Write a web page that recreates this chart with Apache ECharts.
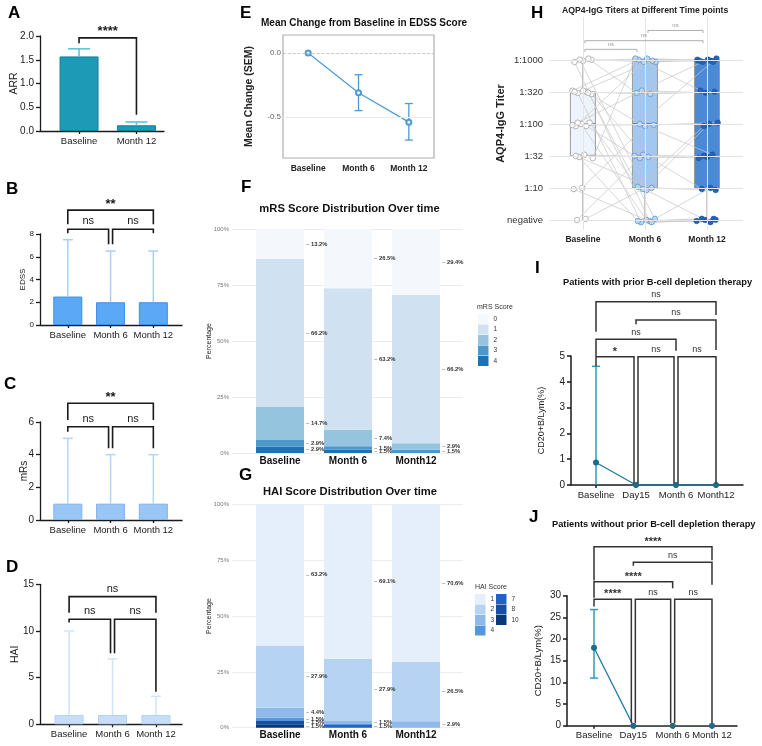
<!DOCTYPE html>
<html><head><meta charset="utf-8">
<script src="https://cdn.jsdelivr.net/npm/echarts@6/dist/echarts.min.js"></script>
<style>html,body{margin:0;padding:0;background:#fff}#c{width:762px;height:746px}</style>
</head><body><div id="c"></div>
<script>
// ================= DATA =================
const arrCategories = ['Baseline', 'Month 12'];
const arrMean = [1.57, 0.12];
const arrUpper = [1.73, 0.19];
const arrSig = ['****'];

const visitCategories = ['Baseline', 'Month 6', 'Month 12'];
const edssValue = [2.5, 2.0, 2.0];
const edssUpper = [7.5, 6.5, 6.5];
const edssSig = ['**', 'ns', 'ns'];
const mrsValue = [1, 1, 1];
const mrsUpper = [5, 4, 4];
const mrsSig = ['**', 'ns', 'ns'];
const haiValue = [1, 1, 1];
const haiUpper = [10, 7, 3];
const haiSig = ['ns', 'ns', 'ns'];

const edssChange = [0, -0.31, -0.54];
const edssChangeLow = [0, -0.45, -0.68];
const edssChangeHigh = [0, -0.17, -0.395];

const distCategories = ['Baseline', 'Month 6', 'Month12'];
const mrsPct0 = [13.2, 26.5, 29.4];
const mrsPct1 = [66.2, 63.2, 66.2];
const mrsPct2 = [14.7, 7.4, 2.9];
const mrsPct3 = [2.9, 1.5, 1.5];
const mrsPct4 = [2.9, 1.5, 0];
const haiPct1 = [63.2, 69.1, 70.6];
const haiPct2 = [27.9, 27.9, 26.5];
const haiPct3 = [4.4, 1.5, 2.9];
const haiPct4 = [1.5, 0, 0];
const haiPct7 = [0, 1.5, 0];
const haiPct8 = [1.5, 0, 0];
const haiPct10 = [1.5, 0, 0];

const titerLevels = ['negative', '1:10', '1:32', '1:100', '1:320', '1:1000'];
// level index per patient (0 = negative ... 5 = 1:1000)
const titerBaseline = [5,5,5,5,5, 4,4,4,4,4,4,4, 3,3,3,3,3,3, 2,2,2,2, 1,1, 0,0];
const titerMonth6   = [5,5,0,4,1, 5,3,0,2,5,4,0, 5,1,0,3,2,4, 0,5,2,1, 3,0, 1,2];
const titerMonth12  = [5,5,0,5,0, 4,5,0,2,5,4,1, 5,3,0,3,2,4, 0,5,1,1, 2,0, 3,2];
// [min, Q1, median, Q3, max] in level index
const titerBoxBaseline = [0, 2, 3, 4, 5];
const titerBoxMonth6 = [0, 1, 3, 5, 5];
const titerBoxMonth12 = [0, 1, 3, 5, 5];
const titerSig = ['ns', 'ns', 'ns'];

const cd20PriorCategories = ['Baseline', 'Day15', 'Month 6', 'Month12'];
const cd20Prior = [0.87, 0, 0, 0];
const cd20PriorLow = [0, 0, 0, 0];
const cd20PriorHigh = [4.6, 0, 0, 0];
const cd20PriorSig = ['ns', 'ns', 'ns', '*', 'ns', 'ns'];

const cd20NaiveCategories = ['Baseline', 'Day15', 'Month 6', 'Month 12'];
const cd20Naive = [18.0, 0, 0, 0];
const cd20NaiveLow = [11.0, 0, 0, 0];
const cd20NaiveHigh = [26.8, 0, 0, 0];
const cd20NaiveSig = ['****', 'ns', '****', '****', 'ns', 'ns'];

// ================= LAYOUT (annotation geometry) =================
// bracket rows: [fromIdx, toIdx, yLine, yEndFrom, yEndTo, dxFromPx, dxToPx]
const bracketsA = [[0, 1, 1.96, 1.85, 0.34, 0, 0]];
const bracketsB = [[0, 2, 10.1, 8.86, 8.86, 0, 0], [0, 1, 8.42, 8.07, 7.1, 0, -2], [1, 2, 8.42, 7.1, 8.07, 2, 0]];
const bracketsC = [[0, 2, 7.15, 6.12, 6.12, 0, 0], [0, 1, 5.71, 5.41, 4.39, 0, -2], [1, 2, 5.71, 4.39, 4.39, 2, 0]];
const bracketsD = [[0, 2, 13.68, 11.96, 11.96, 0, 0], [0, 1, 11.25, 10.9, 7.6, 0, -2], [1, 2, 11.25, 7.6, 3.5, 2, 0]];
const bracketsH = [[0, 1, 5.33, 5.25, 5.25, 2, -8], [0, 2, 5.6, 5.52, 5.52, 2, -4], [1, 2, 5.92, 5.84, 5.84, 3, -4]];
const bracketsI = [[0, 3, 7.1, 5.94, 6.59, 0, 0], [1, 3, 6.4, 6.23, 5.23, 0, 0], [0, 2, 5.65, 5.0, 5.2, 0, 0],
                   [0, 1, 4.97, 4.6, 0.06, 0, -2], [1, 2, 4.97, 0.06, 0.06, 2, -2], [2, 3, 4.97, 0.06, 0.06, 2, 0]];
const bracketsJ = [[0, 3, 41.3, 33.5, 38.2, 0, 0], [1, 3, 37.7, 36.9, 32.5, 0, 0], [0, 2, 33.2, 29.5, 31.7, 0, 0],
                   [0, 1, 29.2, 27.5, 0.6, 0, -2], [1, 2, 29.2, 0.6, 0.6, 2, -2], [2, 3, 29.2, 0.6, 0.6, 2, 0]];

const FONT = '"Liberation Sans", Arial, Helvetica, sans-serif';
const INK = '#1a1a1a';

// ================= HELPERS =================
function idx(arr) { return arr.map((_, i) => i); }

function gpXAxis(gi, cats, min, max, fs, opt) {
  opt = opt || {};
  return {
    gridIndex: gi, type: 'value', min: min, max: max,
    axisLine: { show: opt.line !== false, onZero: false, lineStyle: { color: INK, width: opt.lw || 1.3 } },
    axisTick: { show: opt.tick !== false, customValues: idx(cats), length: 3, lineStyle: { color: INK, width: opt.lw || 1.3 } },
    axisLabel: { show: true, customValues: idx(cats), formatter: v => cats[Math.round(v)], fontSize: fs,
      fontFamily: FONT, color: opt.color || INK, fontWeight: opt.bold ? 'bold' : 'normal', margin: opt.margin || 5 },
    splitLine: { show: false }
  };
}

function gpYAxis(gi, min, max, interval, opt) {
  return {
    gridIndex: gi, type: 'value', min: min, max: max, interval: interval,
    axisLine: { show: true, onZero: false, lineStyle: { color: INK, width: opt.lw || 1.3 } },
    axisTick: { show: true, length: 4, lineStyle: { color: INK, width: opt.lw || 1.3 } },
    axisLabel: { fontSize: opt.fs, fontFamily: FONT, color: INK, margin: opt.margin || 6, formatter: opt.fmt },
    splitLine: { show: false },
    name: opt.name, nameLocation: 'middle', nameGap: opt.nameGap, nameRotate: 90, nameMoveOverlap: false,
    nameTextStyle: { fontSize: opt.nameFs, fontFamily: FONT, color: INK, fontWeight: opt.nameBold ? 'bold' : 'normal' }
  };
}

function errorBars(gi, rows, color, cap, lw, z) {
  return {
    type: 'custom', xAxisIndex: gi, yAxisIndex: gi, silent: true, z: z || 3, clip: false,
    data: rows,
    renderItem: function (params, api) {
      const x = api.value(0), lo = api.value(1), hi = api.value(2);
      if (hi === lo) return { type: 'group', children: [] };
      const pl = api.coord([x, lo]), ph = api.coord([x, hi]);
      const h = cap / 2;
      const st = { stroke: color, lineWidth: lw, fill: null };
      const ch = [
        { type: 'line', shape: { x1: pl[0], y1: pl[1], x2: ph[0], y2: ph[1] }, style: st },
        { type: 'line', shape: { x1: ph[0] - h, y1: ph[1], x2: ph[0] + h, y2: ph[1] }, style: st }
      ];
      if (rows[params.dataIndex][3]) {
        ch.push({ type: 'line', shape: { x1: pl[0] - h, y1: pl[1], x2: pl[0] + h, y2: pl[1] }, style: st });
      }
      return { type: 'group', children: ch };
    }
  };
}

function brackets(gi, layout, labels, o) {
  return {
    type: 'custom', xAxisIndex: gi, yAxisIndex: gi, silent: true, z: 6, clip: false,
    data: layout.map(r => [r[0], r[2]]),
    renderItem: function (params, api) {
      const r = layout[params.dataIndex];
      const pA = api.coord([r[0], r[2]]), pB = api.coord([r[1], r[2]]);
      const eA = api.coord([r[0], r[3]]), eB = api.coord([r[1], r[4]]);
      const xa = pA[0] + r[5], xb = pB[0] + r[6], y = pA[1];
      const lab = labels[params.dataIndex];
      const star = lab.indexOf('*') >= 0;
      const ty = y - (star ? o.starGap : o.nsGap);
      return {
        type: 'group', children: [
          { type: 'polyline', shape: { points: [[xa, eA[1]], [xa, y], [xb, y], [xb, eB[1]]] },
            style: { stroke: o.color, lineWidth: o.lw, fill: null } },
          { type: 'text', x: (xa + xb) / 2, y: ty,
            style: { text: lab, fill: o.color, font: (star ? 'bold ' + o.starFs : 'normal ' + o.nsFs) + 'px ' + FONT,
              align: 'center', verticalAlign: 'middle', textAlign: 'center', textVerticalAlign: 'middle' } }
        ]
      };
    }
  };
}

function gtext(x, y, text, size, weight, color, align) {
  return { type: 'text', x: x, y: y, silent: true, z: 10,
    style: { text: text, font: weight + ' ' + size + 'px ' + FONT, fill: color || '#000',
      align: align || 'left', verticalAlign: 'middle', textAlign: align || 'left', textVerticalAlign: 'middle' } };
}

// jitter for titer points (deterministic)
function jx(k) { return (((k * 0.618034) % 1) - 0.5) * 0.36; }
function jy(k) { return (((k * 0.7548777) % 1) - 0.5) * 0.14; }
function jitter(levels, t) {
  const cnt = {};
  return levels.map(lv => {
    const k = cnt[lv] = (cnt[lv] || 0) + 1;
    return [t + jx(k + lv * 3 + t * 5), lv + jy(k + lv + t * 2)];
  });
}

// ================= OPTION =================
const grids = [
  { left: 40, top: 36, width: 124, height: 95 },          // 0 A
  { left: 40, top: 234, width: 142, height: 91 },         // 1 B
  { left: 40, top: 422, width: 142, height: 98 },         // 2 C
  { left: 40, top: 584.3, width: 142, height: 140 },      // 3 D
  { left: 283, top: 35, width: 151, height: 123, show: true, borderColor: '#adadad', borderWidth: 1.2, backgroundColor: '#fff' }, // 4 E
  { left: 232, top: 229, width: 231, height: 224 },       // 5 F bg
  { left: 246, top: 229, width: 204, height: 224 },       // 6 F bars
  { left: 232, top: 504.3, width: 231, height: 223.4 },   // 7 G bg
  { left: 246, top: 504.3, width: 204, height: 223.4 },   // 8 G bars
  { left: 550, top: 17, width: 193, height: 213 },        // 9 H
  { left: 571, top: 356, width: 172, height: 129 },       // 10 I
  { left: 567, top: 595.7, width: 170, height: 130 }      // 11 J
].map(g => Object.assign({ containLabel: false, outerBoundsMode: 'none' }, g));

const xAxes = [
  gpXAxis(0, arrCategories, -0.68, 1.48, 9.5),
  gpXAxis(1, visitCategories, -0.65, 2.67, 9.5),
  gpXAxis(2, visitCategories, -0.65, 2.67, 9.5),
  gpXAxis(3, visitCategories, -0.67, 2.6, 9.5),
  { gridIndex: 4, type: 'category', data: visitCategories, boundaryGap: true,
    axisLine: { show: false }, axisTick: { show: false },
    axisLabel: { fontSize: 8.5, fontWeight: 'bold', fontFamily: FONT, color: '#222', margin: 6 } },
  { gridIndex: 5, type: 'value', min: 0, max: 1, show: false },
  { gridIndex: 6, type: 'category', data: distCategories, axisLine: { show: false }, axisTick: { show: false },
    axisLabel: { interval: 0, fontSize: 10, fontWeight: 'bold', fontFamily: FONT, color: '#111', margin: 3 } },
  { gridIndex: 7, type: 'value', min: 0, max: 1, show: false },
  { gridIndex: 8, type: 'category', data: distCategories, axisLine: { show: false }, axisTick: { show: false },
    axisLabel: { interval: 0, fontSize: 10, fontWeight: 'bold', fontFamily: FONT, color: '#111', margin: 3 } },
  gpXAxis(9, visitCategories, -0.53, 2.58, 8.5, { line: false, tick: false, bold: true, color: '#222', margin: 5 }),
  gpXAxis(10, cd20PriorCategories, -0.625, 3.675, 9.5, { lw: 1.5 }),
  gpXAxis(11, cd20NaiveCategories, -0.687, 3.636, 9.5, { lw: 1.5 })
];

const pctAxis = (gi, show) => show ? {
  gridIndex: gi, type: 'value', min: 0, max: 100, interval: 25,
  axisLine: { show: false }, axisTick: { show: false },
  axisLabel: { formatter: '{value}%', fontSize: 6, fontFamily: FONT, color: '#777', margin: 3 },
  splitLine: { show: true, lineStyle: { color: '#ececec', width: 1 } },
  name: 'Percentage', nameLocation: 'middle', nameGap: 19, nameRotate: 90, nameMoveOverlap: false,
  nameTextStyle: { fontSize: 7, fontFamily: FONT, color: '#222' }
} : { gridIndex: gi, type: 'value', min: 0, max: 100, show: false };

const yAxes = [
  gpYAxis(0, 0, 2, 0.5, { fs: 10, fmt: v => v.toFixed(1), name: 'ARR', nameGap: 20, nameFs: 10.5 }),
  gpYAxis(1, 0, 8, 2, { fs: 8, name: 'EDSS', nameGap: 13, nameFs: 8 }),
  gpYAxis(2, 0, 6, 2, { fs: 10, name: 'mRs', nameGap: 11, nameFs: 10 }),
  gpYAxis(3, 0, 15, 5, { fs: 10, name: 'HAI', nameGap: 19, nameFs: 10.5 }),
  { gridIndex: 4, type: 'value', min: -0.82, max: 0.14,
    axisLine: { show: false, onZero: false }, axisTick: { show: false }, splitLine: { show: false },
    axisLabel: { customValues: [0, -0.5], formatter: v => v.toFixed(1), fontSize: 8, fontFamily: FONT, color: '#666', margin: 2 },
    name: 'Mean Change (SEM)', nameLocation: 'middle', nameGap: 28, nameRotate: 90, nameMoveOverlap: false,
    nameTextStyle: { fontSize: 10.5, fontWeight: 'bold', fontFamily: FONT, color: '#222' } },
  pctAxis(5, true), pctAxis(6, false), pctAxis(7, true), pctAxis(8, false),
  { gridIndex: 9, type: 'value', min: -0.31, max: 6.34,
    axisLine: { show: false, onZero: false }, axisTick: { show: false }, splitLine: { show: false },
    axisLabel: { customValues: [0, 1, 2, 3, 4, 5], formatter: v => titerLevels[Math.round(v)], fontSize: 9.5, fontFamily: FONT, color: '#333', margin: 7 },
    name: 'AQP4-IgG Titer', nameLocation: 'middle', nameGap: 44, nameRotate: 90, nameMoveOverlap: false,
    nameTextStyle: { fontSize: 11, fontWeight: 'bold', fontFamily: FONT, color: '#222' } },
  gpYAxis(10, 0, 5, 1, { fs: 10, lw: 1.5, name: 'CD20+B/Lym(%)', nameGap: 25, nameFs: 9 }),
  gpYAxis(11, 0, 30, 5, { fs: 10, lw: 1.5, name: 'CD20+B/Lym(%)', nameGap: 24, nameFs: 9.5 })
];

const series = [];
const bigBr = { color: INK, lw: 1.6, starGap: 6, nsGap: 8, starFs: 13, nsFs: 11 };

// ---- A ----
series.push({ type: 'bar', xAxisIndex: 0, yAxisIndex: 0, barWidth: 39, data: arrMean.map((v, i) => [i, v]),
  itemStyle: { color: '#1c9ab6', borderColor: '#13809a', borderWidth: 1 } });
series.push(errorBars(0, arrMean.map((v, i) => [i, v, arrUpper[i]]), '#62c3d9', 22, 1.6));
series.push(brackets(0, bracketsA, arrSig, bigBr));

// ---- B, C, D ----
const bcd = [
  [1, edssValue, edssUpper, edssSig, bracketsB, '#5aa8f6', '#3b8ee8', '#a9cef8'],
  [2, mrsValue, mrsUpper, mrsSig, bracketsC, '#99c6f5', '#7fb4ee', '#b5d6f8'],
  [3, haiValue, haiUpper, haiSig, bracketsD, '#c8ddf7', '#b3d0f3', '#d0e3f9']
];
bcd.forEach(p => {
  series.push({ type: 'bar', xAxisIndex: p[0], yAxisIndex: p[0], barWidth: 29, data: p[1].map((v, i) => [i, v]),
    itemStyle: { color: p[5], borderColor: p[6], borderWidth: 1 } });
  series.push(errorBars(p[0], p[1].map((v, i) => [i, v, p[2][i]]), p[7], 10, 1.5));
  series.push(brackets(p[0], p[4], p[3], bigBr));
});

// ---- E ----
series.push({ type: 'line', xAxisIndex: 4, yAxisIndex: 4, data: edssChange, symbol: 'emptyCircle', symbolSize: 5,
  lineStyle: { color: '#4d9ad6', width: 1.2 }, itemStyle: { color: '#4d9ad6', borderWidth: 1 }, z: 4,
  markLine: { silent: true, symbol: ['none', 'none'], label: { show: false }, animation: false,
    data: [{ yAxis: 0, lineStyle: { type: 'dashed', color: '#bdbdbd', width: 0.8 } },
           { yAxis: -0.5, lineStyle: { type: 'solid', color: '#ececec', width: 1 } }] } });
series.push(errorBars(4, edssChange.map((v, i) => [i, edssChangeLow[i], edssChangeHigh[i], 1]), '#4d9ad6', 8, 1.3));

// ---- F ----
const mrsColors = { '0': '#f4f8fd', '1': '#d0e1f2', '2': '#95c4df', '3': '#4d97c9', '4': '#2070b4' };
const mrsStack = [['4', mrsPct4], ['3', mrsPct3], ['2', mrsPct2], ['1', mrsPct1], ['0', mrsPct0]];
const segLabel = {
  show: true, position: 'right', distance: 2,
  formatter: p => p.value > 0 ? '{d|–} ' + p.value.toFixed(1) + '%' : '',
  rich: { d: { color: '#888', fontSize: 6 } },
  fontSize: 5.8, fontWeight: 'bold', fontFamily: FONT, color: '#333'
};
mrsStack.forEach(s => series.push({ type: 'bar', name: 'mRS ' + s[0], xAxisIndex: 6, yAxisIndex: 6, stack: 'mrs',
  barWidth: 48, data: s[1], itemStyle: { color: mrsColors[s[0]] }, label: segLabel }));

// ---- G ----
const haiColors = { '1': '#e5effc', '2': '#b7d3f3', '3': '#8fb9ea', '4': '#5596e0', '7': '#1f63c6', '8': '#164fa2', '10': '#0b3878' };
const haiStack = [['10', haiPct10], ['8', haiPct8], ['7', haiPct7], ['4', haiPct4], ['3', haiPct3], ['2', haiPct2], ['1', haiPct1]];
haiStack.forEach(s => series.push({ type: 'bar', name: 'HAI ' + s[0], xAxisIndex: 8, yAxisIndex: 8, stack: 'hai',
  barWidth: 48, data: s[1], itemStyle: { color: haiColors[s[0]] }, label: segLabel }));

// ---- H ----
const ptsB = jitter(titerBaseline, 0), pts6 = jitter(titerMonth6, 1), pts12 = jitter(titerMonth12, 2);
series.push({ type: 'scatter', xAxisIndex: 9, yAxisIndex: 9, data: [[-5, -5]], symbolSize: 0, silent: true, z: 1,
  markLine: { silent: true, symbol: ['none', 'none'], label: { show: false }, animation: false,
    lineStyle: { color: '#e4e4e4', width: 1, type: 'solid' },
    data: [0, 1, 2].map(v => ({ xAxis: v })).concat([0, 1, 2, 3, 4, 5].map(v => ({ yAxis: v }))) } });
const boxColors = ['#edf4fd', '#a3c7ee', '#4a89d6'];
const boxRows = [titerBoxBaseline, titerBoxMonth6, titerBoxMonth12].map((b, i) => [i].concat(b));
series.push({ type: 'custom', xAxisIndex: 9, yAxisIndex: 9, silent: true, z: 2, clip: false, data: boxRows,
  renderItem: function (params, api) {
    const x = api.value(0);
    const c = [1, 2, 3, 4, 5].map(d => api.coord([x, api.value(d)]));
    const cx = c[0][0], hw = 12.5;
    const ln = { stroke: '#9a9a9a', lineWidth: 1 };
    return { type: 'group', children: [
      { type: 'line', shape: { x1: cx, y1: c[0][1], x2: cx, y2: c[1][1] }, style: ln },
      { type: 'line', shape: { x1: cx, y1: c[3][1], x2: cx, y2: c[4][1] }, style: ln },
      { type: 'rect', shape: { x: cx - hw, y: c[3][1], width: hw * 2, height: c[1][1] - c[3][1] },
        style: { fill: boxColors[params.dataIndex], stroke: '#9a9a9a', lineWidth: 1 } },
      { type: 'line', shape: { x1: cx - hw, y1: c[2][1], x2: cx + hw, y2: c[2][1] }, style: { stroke: '#555', lineWidth: 1.2 } }
    ] };
  } });
series.push({ type: 'lines', coordinateSystem: 'cartesian2d', xAxisIndex: 9, yAxisIndex: 9, polyline: true, silent: true, z: 3,
  lineStyle: { color: '#c6c6c6', width: 0.7, opacity: 1 },
  data: ptsB.map((p, i) => ({ coords: [p, pts6[i], pts12[i]] })) });
const ptStyles = [
  { color: '#ffffff', borderColor: '#a3a3a3', borderWidth: 0.8 },
  { color: '#b9d5f2', borderColor: '#5b9bd6', borderWidth: 0.8 },
  { color: '#1f64c2', borderColor: '#17509f', borderWidth: 0.6 }
];
[ptsB, pts6, pts12].forEach((pts, t) => series.push({ type: 'scatter', xAxisIndex: 9, yAxisIndex: 9, z: 4, silent: true,
  data: pts, symbolSize: 5.5, itemStyle: Object.assign({ opacity: 1 }, ptStyles[t]) }));
series.push(brackets(9, bracketsH, titerSig, { color: '#9a9a9a', lw: 0.8, starGap: 5, nsGap: 5, starFs: 7, nsFs: 6 }));

// ---- I, J ----
const ijBr = { color: '#333', lw: 1.5, starGap: 5, nsGap: 7, starFs: 11, nsFs: 9 };
[[10, cd20Prior, cd20PriorLow, cd20PriorHigh, cd20PriorSig, bracketsI, 0],
 [11, cd20Naive, cd20NaiveLow, cd20NaiveHigh, cd20NaiveSig, bracketsJ, 1]].forEach(p => {
  series.push({ type: 'line', xAxisIndex: p[0], yAxisIndex: p[0], data: p[1].map((v, i) => [i, v]), symbol: 'circle', symbolSize: 6,
    lineStyle: { color: '#1f789c', width: 1.3 }, itemStyle: { color: '#1a6e8c' }, z: 4 });
  series.push(errorBars(p[0], p[1].map((v, i) => [i, p[2][i], p[3][i], p[6]]), '#2a9db9', 8, 1.5));
  series.push(brackets(p[0], p[5], p[4], ijBr));
});

const legendCommon = { orient: 'vertical', itemWidth: 10.5, itemHeight: 10, itemGap: 0.5, icon: 'rect', padding: 0,
  selectedMode: false, textStyle: { fontSize: 6.5, fontFamily: FONT, color: '#333' } };

const graphics = [
  gtext(8, 13.5, 'A', 17, 'bold'), gtext(6, 189, 'B', 17, 'bold'), gtext(4, 384.5, 'C', 17, 'bold'),
  gtext(6, 567, 'D', 17, 'bold'), gtext(240, 13, 'E', 17, 'bold'), gtext(241, 187.5, 'F', 17, 'bold'),
  gtext(239, 475.5, 'G', 17, 'bold'), gtext(531, 13, 'H', 17, 'bold'), gtext(535, 268.5, 'I', 17, 'bold'),
  gtext(529, 517.5, 'J', 17, 'bold'),
  gtext(261, 23.5, 'Mean Change from Baseline in EDSS Score', 10, 'bold', '#111'),
  gtext(349.5, 209, 'mRS Score Distribution Over time', 11.2, 'bold', '#111', 'center'),
  gtext(350, 492, 'HAI Score Distribution Over time', 11.2, 'bold', '#111', 'center'),
  gtext(562, 11, 'AQP4-IgG Titers at Different Time points', 8.7, 'bold', '#222'),
  gtext(563, 282, 'Patients with prior B-cell depletion therapy', 9.3, 'bold', '#111'),
  gtext(552, 524, 'Patients without prior B-cell depletion therapy', 9.3, 'bold', '#111'),
  gtext(477, 307, 'mRS Score', 7, 'normal', '#333'),
  gtext(475, 587, 'HAI Score', 7, 'normal', '#333')
];

const option = {
  animation: false,
  backgroundColor: '#ffffff',
  textStyle: { fontFamily: FONT },
  grid: grids, xAxis: xAxes, yAxis: yAxes, series: series,
  legend: [
    Object.assign({ left: 478, top: 314, data: ['mRS 0', 'mRS 1', 'mRS 2', 'mRS 3', 'mRS 4'], formatter: n => n.replace('mRS ', '') }, legendCommon),
    Object.assign({ left: 475, top: 594, data: ['HAI 1', 'HAI 2', 'HAI 3', 'HAI 4'], formatter: n => n.replace('HAI ', '') }, legendCommon),
    Object.assign({ left: 496, top: 594, data: ['HAI 7', 'HAI 8', 'HAI 10'], formatter: n => n.replace('HAI ', '') }, legendCommon)
  ],
  graphic: { elements: graphics }
};

const chart = echarts.init(document.getElementById('c'), null, { renderer: 'canvas', width: 762, height: 746 });
chart.setOption(option);
</script>
</body></html>
